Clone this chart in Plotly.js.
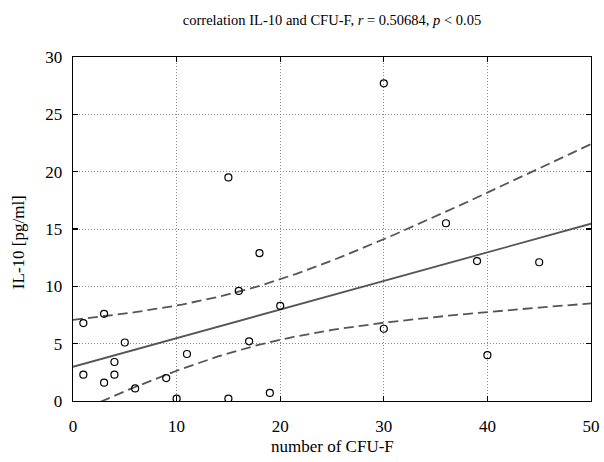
<!DOCTYPE html>
<html>
<head>
<meta charset="utf-8">
<script src="https://cdn.plot.ly/plotly-3.0.1.min.js"></script>
<style>html,body{margin:0;padding:0;background:#fff;}#chart{width:604px;height:462px;}</style>
</head>
<body>
<div id="chart"></div>
<script>
// Observed data (number of CFU-F vs IL-10 [pg/ml])
const cfuF = [1, 1, 3, 3, 4, 4, 5, 6, 9, 10, 11, 15, 15, 16, 17, 18, 19, 20, 30, 30, 36, 39, 40, 45];
const il10 = [6.8, 2.3, 7.6, 1.6, 3.4, 2.3, 5.1, 1.1, 2.0, 0.2, 4.1, 0.2, 19.5, 9.6, 5.2, 12.9, 0.7, 8.3, 27.7, 6.3, 15.5, 12.2, 4.0, 12.1];
const xTicks = [0, 10, 20, 30, 40, 50];
const yTicks = [0, 5, 10, 15, 20, 25, 30];

// Least-squares fit and 95% confidence band of the mean, derived from the data
const n = cfuF.length;
const mx = cfuF.reduce((a, b) => a + b, 0) / n;
const my = il10.reduce((a, b) => a + b, 0) / n;
let sxx = 0, sxy = 0;
for (let i = 0; i < n; i++) { sxx += (cfuF[i] - mx) ** 2; sxy += (cfuF[i] - mx) * (il10[i] - my); }
const b1 = sxy / sxx, b0 = my - b1 * mx;
let sse = 0;
for (let i = 0; i < n; i++) sse += (il10[i] - (b0 + b1 * cfuF[i])) ** 2;
const s = Math.sqrt(sse / (n - 2));
const tCrit = 2.074; // t(0.975, df=22)
const fx = [], fy = [], up = [], lo = [];
for (let k = 0; k <= 100; k++) {
  const x = 50 * k / 100;
  const yh = b0 + b1 * x;
  const hw = tCrit * s * Math.sqrt(1 / n + (x - mx) ** 2 / sxx);
  fx.push(x); fy.push(yh); up.push(yh + hw); lo.push(yh - hw);
}

const grey = '#555555';
const traces = [
  {x: fx, y: up, mode: 'lines', line: {color: grey, width: 1.8, dash: '10px,5px'}, hoverinfo: 'skip'},
  {x: fx, y: lo, mode: 'lines', line: {color: grey, width: 1.8, dash: '10px,5px'}, hoverinfo: 'skip'},
  {x: fx, y: fy, mode: 'lines', line: {color: grey, width: 1.8}, hoverinfo: 'skip'},
  {x: cfuF, y: il10, mode: 'markers', marker: {symbol: 'circle-open', size: 7, color: '#000', line: {width: 1.2, color: '#000'}}}
];

const serif = 'Liberation Serif, Times New Roman, serif';
const axisCommon = {
  showline: true, linecolor: '#000', linewidth: 1.4, mirror: 'allticks',
  ticks: 'inside', ticklen: 5, tickwidth: 1.4, tickcolor: '#000',
  showgrid: true, gridcolor: '#888', griddash: '1px,2px', gridwidth: 1,
  zeroline: false,
  tickfont: {family: serif, size: 17, color: '#000'}
};

const layout = {
  width: 604, height: 462,
  margin: {l: 73, r: 13, t: 57, b: 61},
  paper_bgcolor: '#fff', plot_bgcolor: '#fff',
  showlegend: false,
  font: {family: serif, color: '#000'},
  title: {text: 'correlation IL-10 and CFU-F, <i>r</i> = 0.50684, <i>p</i> < 0.05', xref: 'paper', x: 0.5, xanchor: 'center', y: 0.957, yanchor: 'middle', font: {size: 14.5, color: '#000'}},
  xaxis: Object.assign({}, axisCommon, {
    range: [0, 50], tickvals: xTicks, ticktext: xTicks.map(String),
    ticklabelstandoff: 9
  }),
  yaxis: Object.assign({}, axisCommon, {
    range: [0, 30], tickvals: yTicks, ticktext: yTicks.map(String),
    ticklabelstandoff: 6
  }),
  annotations: [{
    text: 'IL-10 [pg/ml]', textangle: -90, showarrow: false,
    xref: 'paper', yref: 'paper', x: -0.106, y: 0.462, xanchor: 'center', yanchor: 'middle',
    font: {family: serif, size: 17, color: '#000'}
  }, {
    text: 'number of CFU-F', showarrow: false,
    xref: 'paper', yref: 'paper', x: 0.5, y: -0.131, xanchor: 'center', yanchor: 'middle',
    font: {family: serif, size: 17, color: '#000'}
  }]
};

Plotly.newPlot('chart', traces, layout, {staticPlot: true, displayModeBar: false});
</script>
</body>
</html>
